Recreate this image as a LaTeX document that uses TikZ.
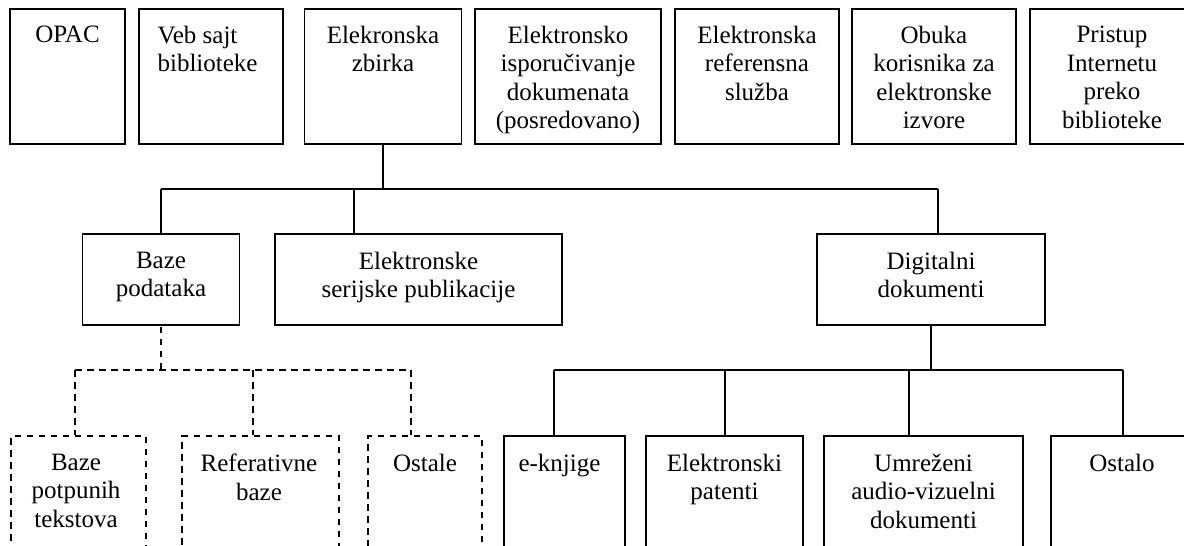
\documentclass[tikz,border=0pt]{standalone}
\usepackage{fontspec}
\setmainfont{Liberation Serif}
\begin{document}
\begin{tikzpicture}[x=1pt,y=-1pt,
  box/.style={draw, line width=1.3pt, inner sep=0pt},
  dbox/.style={box, dash pattern=on 6.5pt off 5.5pt},
  conn/.style={line width=1.3pt},
  dconn/.style={line width=1.3pt, dash pattern=on 6.5pt off 5.5pt},
  txt/.style={font=\fontsize{25pt}{28.5pt}\selectfont, align=center, inner sep=0pt, anchor=north}]
\useasboundingbox (0,0) rectangle (1184,546);
\clip (0,0) rectangle (1184,546);
% top row
\node[box, minimum width=115pt, minimum height=135pt] (opac) at (67.5,76.5) {};
\node[box, minimum width=144pt, minimum height=135pt] (veb) at (211,76.5) {};
\node[box, minimum width=157pt, minimum height=135pt] (elek) at (383,76.5) {};
\node[box, minimum width=186pt, minimum height=135pt] (isp) at (568,76.5) {};
\node[box, minimum width=164pt, minimum height=135pt] (ref) at (757,76.5) {};
\node[box, minimum width=164pt, minimum height=135pt] (obuka) at (934,76.5) {};
\node[box, minimum width=164pt, minimum height=135pt] (pristup) at (1112,76.5) {};
\node[txt] (opac-t) at ([yshift=-17.5pt]opac.north) {OPAC};
\node[txt, align=left, anchor=north west] (veb-t) at ([xshift=19pt,yshift=-17.5pt]veb.north west) {Veb sajt\\biblioteke};
\node[txt] (elek-t) at ([yshift=-17.5pt]elek.north) {Elekronska\\zbirka};
\node[txt] (isp-t) at ([yshift=-17.5pt]isp.north) {Elektronsko\\isporučivanje\\dokumenata\\(posredovano)};
\node[txt] (ref-t) at ([yshift=-17.5pt]ref.north) {Elektronska\\referensna\\služba};
\node[txt] (obuka-t) at ([yshift=-17.5pt]obuka.north) {Obuka\\korisnika za\\elektronske\\izvore};
\node[txt] (pristup-t) at ([yshift=-17.5pt]pristup.north) {Pristup\\Internetu\\preko\\biblioteke};
% middle row
\node[box, minimum width=157pt, minimum height=91pt] (baze) at (161,279.5) {};
\node[box, minimum width=287pt, minimum height=91pt] (ser) at (418.5,279.5) {};
\node[box, minimum width=228pt, minimum height=91pt] (dig) at (931,279.5) {};
\node[txt] (baze-t) at ([yshift=-18.5pt]baze.north) {Baze\\podataka};
\node[txt] (ser-t) at ([yshift=-18.5pt]ser.north) {Elektronske\\serijske publikacije};
\node[txt] (dig-t) at ([yshift=-18.5pt]dig.north) {Digitalni\\dokumenti};
% bottom row (cut by the lower edge)
\node[dbox, minimum width=135pt, minimum height=124pt] (bpt) at (78.5,498) {};
\node[dbox, minimum width=157pt, minimum height=124pt] (refb) at (260.5,498) {};
\node[dbox, minimum width=114pt, minimum height=124pt] (ost) at (425,498) {};
\node[box, minimum width=121pt, minimum height=124pt] (ek) at (564.5,498) {};
\node[box, minimum width=157pt, minimum height=124pt] (pat) at (724.5,498) {};
\node[box, minimum width=199pt, minimum height=124pt] (umr) at (923.5,498) {};
\node[box, minimum width=142pt, minimum height=124pt] (ostalo) at (1122,498) {};
\node[txt] (bpt-t) at ([xshift=-2.5pt,yshift=-18.5pt]bpt.north) {Baze\\potpunih\\tekstova};
\node[txt] (refb-t) at ([xshift=-1.5pt,yshift=-18.5pt]refb.north) {Referativne\\baze};
\node[txt] (ost-t) at ([yshift=-18.5pt]ost.north) {Ostale};
\node[txt] (ek-t) at ([xshift=-5pt,yshift=-18.5pt]ek.north) {e-knjige};
\node[txt] (pat-t) at ([yshift=-18.5pt]pat.north) {Elektronski\\patenti};
\node[txt] (umr-t) at ([yshift=-18.5pt]umr.north) {Umreženi\\audio-vizuelni\\dokumenti};
\node[txt] (ostalo-t) at ([yshift=-18.5pt]ostalo.north) {Ostalo};
% bus coordinates
\coordinate (t1) at (161,189);
\coordinate (t2) at (354,189);
\coordinate (t3) at (938,189);
\coordinate (d1) at (75,370);
\coordinate (d2) at (253,370);
\coordinate (d3) at (411,370);
\coordinate (s1) at (554,370);
\coordinate (s2) at (725,370);
\coordinate (s3) at (909,370);
\coordinate (s4) at (1123,370);
% solid tree from Elekronska zbirka
\draw[conn] (elek.south) -- (elek.south |- t1);
\draw[conn] (t1) -- (t3);
\draw[conn] (t1) -- (t1 |- baze.north);
\draw[conn] (t2) -- (t2 |- ser.north);
\draw[conn] (t3) -- (t3 |- dig.north);
% dashed tree from Baze podataka
\draw[dconn] ([yshift=-1pt]baze.south) -- (baze.south |- d1);
\draw[dconn] (d1) -- (d3);
\draw[dconn] (d1) -- (d1 |- bpt.north);
\draw[dconn] (d2) -- (d2 |- refb.north);
\draw[dconn] (d3) -- (d3 |- ost.north);
% solid tree from Digitalni dokumenti
\draw[conn] (dig.south) -- (dig.south |- s1);
\draw[conn] (s1) -- (s4);
\draw[conn] (s1) -- (s1 |- ek.north);
\draw[conn] (s2) -- (s2 |- pat.north);
\draw[conn] (s3) -- (s3 |- umr.north);
\draw[conn] (s4) -- (s4 |- ostalo.north);
\end{tikzpicture}
\end{document}
